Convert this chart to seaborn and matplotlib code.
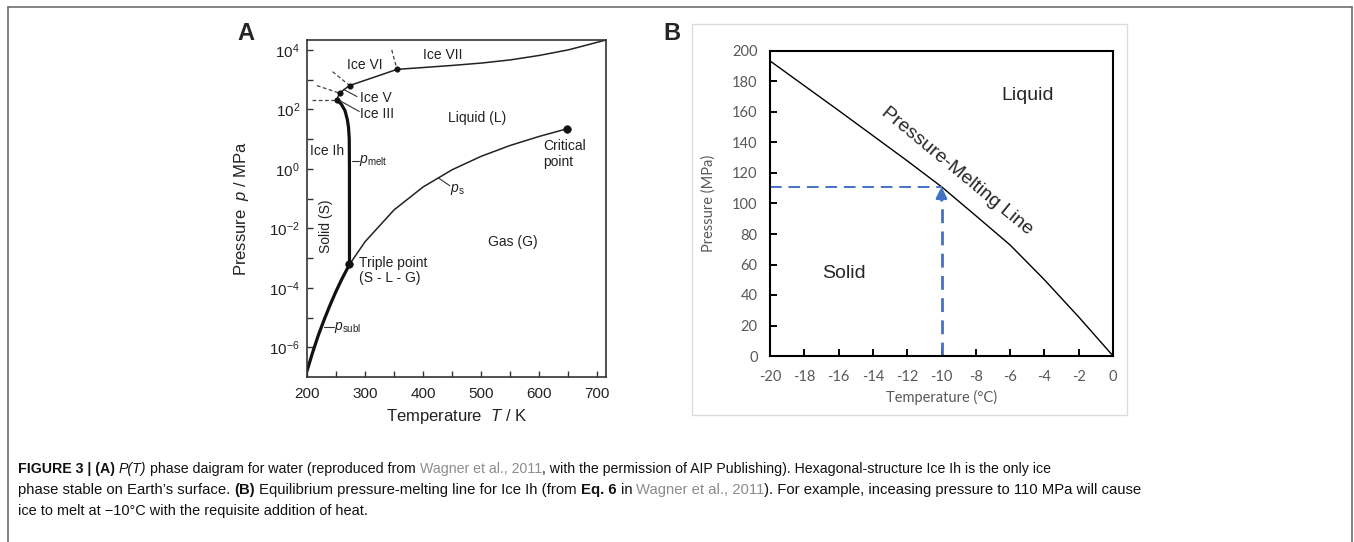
import matplotlib
matplotlib.use('Agg')
import numpy as np
import matplotlib.pyplot as plt
import seaborn as sns
from matplotlib import font_manager
from matplotlib.transforms import IdentityTransform
from matplotlib.lines import Line2D
from matplotlib.patches import Rectangle
from matplotlib.ticker import FixedLocator, FuncFormatter, MultipleLocator, NullFormatter

## Panel A data (T in K, p in MPa)
sub_T = [200, 210, 220, 230, 240, 250, 260, 273.16]
sub_p = [1.6e-7, 7.0e-7, 2.7e-6, 8.9e-6, 2.7e-5, 7.6e-5, 1.96e-4, 6.1e-4]
melt_T = [273.16, 273.1, 272.8, 271.5, 269.5, 265.5, 259.0, 251.165]
melt_p = [6.1e-4, 1.0, 10, 25, 45, 90, 150, 209.9]
ice3_T = [251.165, 256.164]
ice3_p = [209.9, 350.1]
ice5_T = [256.164, 265, 273.31]
ice5_p = [350.1, 480, 632.4]
ice6_T = [273.31, 300, 330, 355]
ice6_p = [632.4, 950, 1500, 2216]
ice7_T = [355, 400, 450, 500, 550, 600, 650, 715]
ice7_p = [2216, 2550, 3000, 3600, 4600, 6500, 10000, 21500]
vap_T = [273.16, 300, 350, 400, 450, 500, 550, 600, 647.1]
vap_p = [6.1e-4, 3.54e-3, 4.17e-2, 0.246, 0.932, 2.64, 6.12, 12.3, 22.06]
big_dot_T = [273.16, 647.1]
big_dot_p = [6.1e-4, 22.06]
small_dot_T = [251.165, 256.164, 273.31, 355]
small_dot_p = [209.9, 350.1, 632.4, 2216]
dash_T = [[208, 251.165], [217, 256.164], [244, 273.31], [346, 355]]
dash_p = [[209.9, 209.9], [630, 350.1], [1850, 632.4], [1.0e4, 2216]]
leader_T = [[286, 263], [290, 253], [278, 289], [426, 446], [229, 246]]
leader_p = [[270, 470], [85, 215], [1.85, 1.85], [0.5, 0.27], [4.7e-6, 4.7e-6]]

## Panel B data (T in degC, p in MPa)
pm_T = [-20, -16, -12, -10, -8, -6, -4, -2, 0]
pm_p = [193.5, 161, 128, 111, 92, 72.8, 50, 25.6, 0.1]
ex_T = -10
ex_p = 111

sns.set_theme(style='white')
plt.rcParams['font.family'] = ['Liberation Sans', 'DejaVu Sans']
plt.rcParams['mathtext.fontset'] = 'custom'
plt.rcParams['mathtext.rm'] = 'Liberation Sans'
plt.rcParams['mathtext.it'] = 'Liberation Sans:italic'
plt.rcParams['mathtext.bf'] = 'Liberation Sans:bold'
plt.rcParams['axes.unicode_minus'] = False

fig = plt.figure(figsize=(13.54, 5.42), dpi=100)
W, H = 1354, 542

# outer frame
frame = dict(color='#6e6e6e', lw=1.2, transform=fig.transFigure)
fig.add_artist(Line2D([8 / W, 1352 / W], [1 - 6.5 / H, 1 - 6.5 / H], **frame))
fig.add_artist(Line2D([8 / W, 8 / W], [0, 1 - 6.5 / H], **frame))
fig.add_artist(Line2D([1352 / W, 1352 / W], [0, 1 - 6.5 / H], **frame))

## ---------------- Panel A ----------------
axA = fig.add_axes([307 / W, 1 - 377 / H, 299 / W, 337 / H])
axA.set_yscale('log')
axA.set_xlim(200, 715)
axA.set_ylim(1e-7, 2.15e4)

sns.lineplot(x=sub_T, y=sub_p, ax=axA, color='#111', lw=2.3, sort=False, estimator=None)
sns.lineplot(x=melt_T, y=melt_p, ax=axA, color='#111', lw=2.3, sort=False, estimator=None)
for xs, ys in [(ice3_T, ice3_p), (ice5_T, ice5_p), (ice6_T, ice6_p), (ice7_T, ice7_p), (vap_T, vap_p)]:
    sns.lineplot(x=xs, y=ys, ax=axA, color='#222', lw=1.1, sort=False, estimator=None)
for xs, ys in zip(dash_T, dash_p):
    axA.plot(xs, ys, color='#444', lw=0.9, ls=(0, (3, 2)))
for xs, ys in zip(leader_T, leader_p):
    axA.plot(xs, ys, color='#333', lw=0.8)
sns.scatterplot(x=big_dot_T, y=big_dot_p, ax=axA, color='#111', s=30, edgecolor='#111', zorder=5)
sns.scatterplot(x=small_dot_T, y=small_dot_p, ax=axA, color='#111', s=16, edgecolor='#111', zorder=5)

tA = dict(fontsize=10, color='#222')
axA.text(300, 3160, 'Ice VI', ha='center', va='center', **tA)
axA.text(433, 6800, 'Ice VII', ha='center', va='center', **tA)
axA.text(291, 250, 'Ice V', ha='left', va='center', **tA)
axA.text(291, 68, 'Ice III', ha='left', va='center', **tA)
axA.text(493, 50, 'Liquid (L)', ha='center', va='center', **tA)
axA.text(234.5, 4, 'Ice Ih', ha='center', va='center', **tA)
axA.text(290, 1.85, r'$p_{\mathrm{melt}}$', ha='left', va='center', **tA)
axA.text(233, 0.0117, 'Solid (S)', ha='center', va='center', rotation=90, **tA)
axA.text(447, 0.2, r'$p_{\mathrm{s}}$', ha='left', va='center', **tA)
axA.text(555, 3.4e-3, 'Gas (G)', ha='center', va='center', **tA)
axA.text(290, 3.7e-4, 'Triple point\n(S - L - G)', ha='left', va='center', linespacing=1.1, **tA)
axA.text(247, 4.7e-6, r'$p_{\mathrm{subl}}$', ha='left', va='center', **tA)
axA.text(607, 3.16, 'Critical\npoint', ha='left', va='center', linespacing=1.1, **tA)

axA.yaxis.set_major_locator(FixedLocator([1e-6, 1e-4, 1e-2, 1, 1e2, 1e4]))
axA.yaxis.set_minor_locator(FixedLocator([1e-5, 1e-3, 1e-1, 1e1, 1e3]))
axA.yaxis.set_major_formatter(FuncFormatter(lambda v, _: r'$10^{%d}$' % round(np.log10(v))))
axA.yaxis.set_minor_formatter(NullFormatter())
axA.xaxis.set_major_locator(MultipleLocator(100))
axA.xaxis.set_minor_locator(MultipleLocator(50))
axA.tick_params(which='both', direction='in', length=4, width=1, color='#333',
                labelsize=11, labelcolor='#222', top=False, right=False, left=True, bottom=True)
axA.tick_params(axis='x', pad=7)
axA.tick_params(axis='y', pad=5)
for s in axA.spines.values():
    s.set_color('#333')
    s.set_linewidth(1.2)
axA.set_xlabel(r'Temperature  $T$ / K', fontsize=12, color='#222')
axA.set_ylabel(r'Pressure  $p$ / MPa', fontsize=12, color='#222')
axA.xaxis.set_label_coords(0.5, -0.088)
axA.yaxis.set_label_coords(-0.186, 0.5)

fig.text(237 / W, 1 - 22 / H, 'A', fontsize=17, fontweight='bold', ha='left', va='top')

## ---------------- Panel B ----------------
fig.add_artist(Rectangle((692 / W, 1 - 415 / H), 435 / W, 391 / H, transform=fig.transFigure,
                         fill=False, edgecolor='#dcdcdc', lw=1.0))
axB = fig.add_axes([770 / W, 1 - 356 / H, 343 / W, 305 / H])
axB.set_xlim(-20, 0)
axB.set_ylim(0, 200)
sns.lineplot(x=pm_T, y=pm_p, ax=axB, color='black', lw=1.0, sort=False, estimator=None)
blue = '#4472C4'
axB.plot([-20, ex_T], [ex_p, ex_p], color=blue, lw=1.4, ls=(0, (6, 3.5)))
axB.plot([ex_T, ex_T], [0, ex_p - 9], color=blue, lw=2.0, ls=(0, (5, 3)))
axB.annotate('', xy=(ex_T, ex_p), xytext=(ex_T, ex_p - 9),
             arrowprops=dict(arrowstyle='-|>', color=blue, lw=2.0, mutation_scale=16,
                             shrinkA=0, shrinkB=0))
axB.text(-5.0, 170.5, 'Liquid', fontsize=14, ha='center', va='center')
axB.text(-15.7, 53.8, 'Solid', fontsize=14, ha='center', va='center')
axB.text(-9.1, 121.5, 'Pressure-Melting Line', fontsize=14, ha='center', va='center',
         rotation=-39.5, rotation_mode='anchor')

axB.xaxis.set_major_locator(MultipleLocator(2))
axB.yaxis.set_major_locator(MultipleLocator(20))
axB.tick_params(direction='in', length=5, width=1.4, color='black', labelsize=10.5,
                labelcolor='#595959', top=False, right=False, left=True, bottom=True)
axB.tick_params(axis='x', pad=10)
axB.tick_params(axis='y', pad=9)
for lab in axB.get_xticklabels() + axB.get_yticklabels():
    lab.set_family('Lato')
for s in axB.spines.values():
    s.set_color('black')
    s.set_linewidth(1.5)
axB.set_xlabel('Temperature (°C)', fontsize=10.5, color='#595959', family='Lato')
axB.set_ylabel('Pressure (MPa)', fontsize=10.5, color='#595959', family='Lato')
axB.xaxis.set_label_coords(0.5, -0.112)
axB.yaxis.set_label_coords(-0.158, 0.5)

fig.text(663 / W, 1 - 22 / H, 'B', fontsize=17, fontweight='bold', ha='left', va='top')

## ---------------- Caption ----------------
names = {f.name for f in font_manager.fontManager.ttflist}
cap_family = 'Liberation Sans Narrow' if 'Liberation Sans Narrow' in names else 'Liberation Sans'
renderer = fig.canvas.get_renderer()
grey = dict(color='#8c8c8c')
bold = dict(fontweight='bold')
ital = dict(style='italic')
plain = dict()


def text_w(s, size, fam, **kw):
    t = fig.text(0, 0, s, fontsize=size, family=fam, transform=IdentityTransform(), **kw)
    w = t.get_window_extent(renderer).width
    t.remove()
    return w


def caption_line(x, y, pieces, fam, size=10, target_w=None):
    def draw(sz):
        arts = []
        cx = x
        sp = text_w('x x', sz, fam) - text_w('xx', sz, fam)
        for txt, kw in pieces:
            ls = len(txt) - len(txt.lstrip(' '))
            ts = len(txt) - len(txt.rstrip(' '))
            cx += ls * sp
            core = txt.strip(' ')
            t = fig.text(cx, y, core, fontsize=sz, family=fam, va='baseline', ha='left',
                         transform=IdentityTransform(), color=kw.get('color', '#111'),
                         **{k: v for k, v in kw.items() if k != 'color'})
            cx += t.get_window_extent(renderer).width + ts * sp
            arts.append(t)
        return arts, cx - x
    arts, w = draw(size)
    if target_w is None:
        return size
    for a in arts:
        a.remove()
    size = size * target_w / w
    draw(size)
    return size


line1 = [('FIGURE 3 | (A) ', bold), ('P(T)', ital), (' phase daigram for water (reproduced from ', plain),
         ('Wagner et al., 2011', grey),
         (', with the permission of AIP Publishing). Hexagonal-structure Ice Ih is the only ice', plain)]
line2 = [('phase stable on Earth’s surface. ', plain), ('(B)', bold),
         (' Equilibrium pressure-melting line for Ice Ih (from ', plain), ('Eq. 6', bold), (' in ', plain),
         ('Wagner et al., 2011', grey), ('). For example, inceasing pressure to 110 MPa will cause', plain)]
line3 = [('ice to melt at −10°C with the requisite addition of heat.', plain)]
s1 = caption_line(18, H - 473, line1, cap_family, target_w=1029)
s2 = caption_line(18, H - 494, line2, cap_family, target_w=1127)
caption_line(18, H - 515, line3, cap_family, size=(s1 + s2) / 2)

fig.savefig('out.png', dpi=100)
